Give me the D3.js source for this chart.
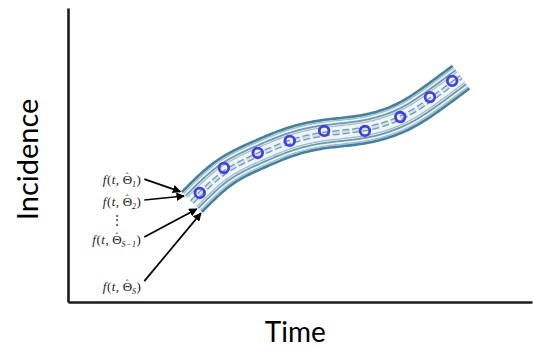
<!DOCTYPE html>
<html>
<head>
<meta charset="utf-8">
<script src="https://cdn.jsdelivr.net/npm/d3@7"></script>
<style>
  body { margin: 0; background: #fff; }
  svg { display: block; }
</style>
</head>
<body>
<div id="viz"></div>
<script>
// fitted mean curve (time, incidence)
const fitTime = [26.7, 33.6, 40.9, 47.8, 55.2, 63.8, 71.6, 78.0, 84.7];
const fitValue = [34.0, 43.9, 50.0, 54.4, 57.1, 58.8, 62.6, 68.7, 76.5];

// observed incidence points
const obsTime = [28.4, 33.6, 40.9, 47.8, 55.2, 64.0, 71.6, 78.0, 82.8];
const obsIncidence = [37.1, 45.6, 50.7, 54.8, 58.2, 58.2, 62.9, 69.7, 75.2];

// parameter draws: shift of each curve from the mean (incidence units)
const drawShift = [4.8, 3.0, -3.0, -4.8];
const drawSub = ["1", "2", "S\u22121", "S"];
// label anchors (time, incidence)
const labelTime = [15.8, 15.8, 15.8, 15.8];
const labelValue = [40.1, 32.7, 19.7, 3.7];
const arrowFromValue = [41.8, 34.7, 22.1, 7.1];

const W = 533, H = 350;
const svg = d3.select("#viz").append("svg")
    .attr("width", W)
    .attr("height", H);

const x = d3.scaleLinear().domain([0, 100]).range([68, 532]);
const y = d3.scaleLinear().domain([0, 100]).range([302, 8]);

// axes, no ticks
svg.append("g")
    .attr("transform", `translate(${x(0)},0)`)
    .call(d3.axisLeft(y).tickValues([]).tickSizeOuter(0))
    .select(".domain").attr("stroke", "#1b1b1b").attr("stroke-width", 2.6);
svg.append("g")
    .attr("transform", `translate(0,${y(0)})`)
    .call(d3.axisBottom(x).tickValues([]).tickSizeOuter(0))
    .select(".domain").attr("stroke", "#1b1b1b").attr("stroke-width", 2.6);

svg.append("text")
    .attr("transform", `translate(38,${y(48.5)}) rotate(-90)`)
    .attr("text-anchor", "middle")
    .attr("font-family", "Lato, 'Open Sans', sans-serif")
    .attr("font-size", 29)
    .text("Incidence");
svg.append("text")
    .attr("x", x(49))
    .attr("y", 342)
    .attr("text-anchor", "middle")
    .attr("font-family", "Lato, 'Open Sans', sans-serif")
    .attr("font-size", 28)
    .text("Time");

// mean curve sampled densely so the draws can be offset along the normal
const fitPts = fitTime.map((t, i) => [x(t), y(fitValue[i])]);
const tmp = svg.append("path")
    .attr("d", d3.line().curve(d3.curveNatural)(fitPts))
    .attr("fill", "none");
const node = tmp.node();
const total = node.getTotalLength();
const samples = d3.range(0, total, 2).concat([total]).map(l => {
  const p = node.getPointAtLength(l);
  return [p.x, p.y];
});
tmp.remove();

function offsetLine(px) {
  return samples.map((p, i) => {
    const a = samples[Math.max(0, i - 1)], b = samples[Math.min(samples.length - 1, i + 1)];
    const dx = b[0] - a[0], dy = b[1] - a[1];
    const len = Math.hypot(dx, dy);
    return [p[0] + dy / len * px, p[1] - dx / len * px];
  });
}
const px = v => y(0) - y(v);
const line = d3.line();

const band = svg.append("g");
const outerUp = offsetLine(px(drawShift[0]));
const outerDn = offsetLine(px(drawShift[3]));
band.append("path")
    .attr("d", line(outerUp.concat(outerDn.slice().reverse())) + "Z")
    .attr("fill", "#eff4f7");

drawShift.forEach((s, i) => {
  const outer = i === 0 || i === drawShift.length - 1;
  band.append("path")
      .attr("d", line(offsetLine(px(s) + (s > 0 ? -2.2 : 2.2))))
      .attr("fill", "none")
      .attr("stroke", "#9dbccb")
      .attr("stroke-width", 1.2);
  band.append("path")
      .attr("d", line(offsetLine(px(s))))
      .attr("fill", "none")
      .attr("stroke", outer ? "#45819d" : "#6b9bb1")
      .attr("stroke-width", outer ? 2.6 : 1.8);
});

band.append("path")
    .attr("d", line(samples))
    .attr("fill", "none")
    .attr("stroke", "#6f9bb0")
    .attr("stroke-width", 5)
    .attr("stroke-dasharray", "7,3");
band.append("path")
    .attr("d", line(samples))
    .attr("fill", "none")
    .attr("stroke", "#d3e2ea")
    .attr("stroke-width", 2.4)
    .attr("stroke-dasharray", "7,3");

svg.selectAll(".obs")
  .data(obsTime.map((t, i) => ({t, v: obsIncidence[i]})))
  .join("circle")
    .attr("class", "obs")
    .attr("cx", d => x(d.t))
    .attr("cy", d => y(d.v))
    .attr("r", 4.8)
    .attr("fill", "none")
    .attr("stroke", "#4340dc")
    .attr("stroke-width", 2.8);

// labels f(t, Θ̂_i) and arrows to the start of each curve
svg.append("defs").append("marker")
    .attr("id", "head")
    .attr("viewBox", "0 0 10 10")
    .attr("refX", 9).attr("refY", 5)
    .attr("markerWidth", 5).attr("markerHeight", 5)
    .attr("orient", "auto")
  .append("path")
    .attr("d", "M0,0L10,5L0,10Z")
    .attr("fill", "#000");

drawShift.forEach((s, i) => {
  const t = svg.append("text")
      .attr("x", x(labelTime[i]))
      .attr("y", y(labelValue[i]))
      .attr("text-anchor", "end")
      .attr("font-family", "'Liberation Serif', 'DejaVu Serif', serif")
      .attr("font-size", 13)
      .attr("letter-spacing", 0.5)
      .attr("fill", "#222");
  t.append("tspan").attr("font-style", "italic").text("f");
  t.append("tspan").text("(");
  t.append("tspan").attr("font-style", "italic").text("t");
  t.append("tspan").text(",\u2009\u0398");
  t.append("tspan").attr("dx", -6.8).attr("dy", -5).attr("font-size", 8).text("\u02c6");
  t.append("tspan").attr("dx", 3).attr("dy", 8).attr("font-size", 8).attr("font-style", "italic").text(drawSub[i]);
  t.append("tspan").attr("dy", -3).text(")");

  const path = offsetLine(px(s));
  const end = path[0];
  const x1 = x(labelTime[i]) + 3, y1 = y(arrowFromValue[i]);
  const dl = Math.hypot(end[0] - x1, end[1] - y1);
  svg.append("line")
      .attr("x1", x1)
      .attr("y1", y1)
      .attr("x2", end[0] - (end[0] - x1) / dl * 1.5)
      .attr("y2", end[1] - (end[1] - y1) / dl * 1.5)
      .attr("stroke", "#000")
      .attr("stroke-width", 1.7)
      .attr("marker-end", "url(#head)");
});

svg.append("text")
    .attr("x", x(labelTime[0]) - 24)
    .attr("y", y(26.6))
    .attr("text-anchor", "middle")
    .attr("font-family", "'Liberation Serif', serif")
    .attr("font-size", 12)
    .attr("fill", "#222")
    .text("\u22ee");
</script>
</body>
</html>
